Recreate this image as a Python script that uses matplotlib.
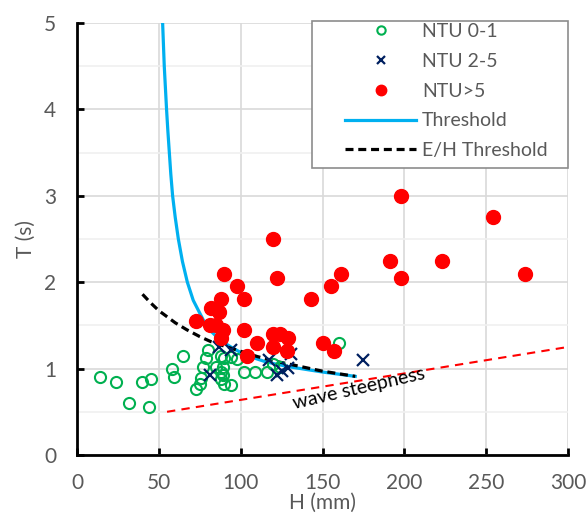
import numpy as np
import matplotlib
matplotlib.use("Agg")
import matplotlib.pyplot as plt
from matplotlib.ticker import MultipleLocator
from matplotlib.patches import Rectangle

plt.rcParams['font.family'] = ['Lato', 'DejaVu Sans']

# NTU 0-1 (open green circles)
H_low = [14, 24, 32, 40, 45, 44, 58, 59, 65,
         80, 79, 77, 76, 75, 73,
         85, 88, 90, 94, 98, 89, 88, 88, 90, 94, 89,
         102, 109, 116, 120, 124, 160]
T_low = [0.90, 0.85, 0.60, 0.85, 0.88, 0.55, 1.00, 0.90, 1.15,
         1.21, 1.12, 1.02, 0.89, 0.82, 0.76,
         1.02, 1.14, 1.12, 1.13, 1.11, 1.02, 0.96, 0.88, 0.82, 0.81, 0.92,
         0.96, 0.96, 0.96, 1.05, 1.02, 1.30]

# NTU 2-5 (crosses)
H_mid = [87, 94, 81, 117, 131, 122, 125, 129, 175]
T_mid = [1.25, 1.21, 0.92, 1.10, 1.17, 0.92, 0.97, 1.01, 1.10]

# NTU>5 (filled red circles)
H_high = [198, 254, 120, 191, 223, 90, 122, 161, 198, 274, 98, 155, 88, 102, 143,
          82, 87, 73, 81, 85, 89, 102, 88, 120, 124, 129, 110, 150, 120, 128, 157, 104]
T_high = [3.00, 2.75, 2.50, 2.25, 2.25, 2.10, 2.05, 2.10, 2.05, 2.10, 1.95, 1.95, 1.80, 1.80, 1.80,
          1.70, 1.65, 1.55, 1.50, 1.50, 1.45, 1.45, 1.35, 1.40, 1.40, 1.35, 1.30, 1.30, 1.25, 1.20, 1.20, 1.15]

# Threshold curve
H_thr = [52.3, 52.8, 53.3, 54.0, 54.7, 55.5, 56.4, 57.3, 58.4, 60.0, 61.9, 64.4, 67.4,
         71.0, 77.2, 82.0, 87.4, 94.0, 100.6, 107, 115, 122, 130, 140, 150, 160, 170]
T_thr = [5.0, 4.75, 4.5, 4.25, 4.0, 3.75, 3.5, 3.25, 3.0, 2.75, 2.5, 2.24, 2.0,
         1.79, 1.56, 1.43, 1.33, 1.25, 1.18, 1.13, 1.08, 1.05, 1.02, 0.99, 0.96, 0.935, 0.91]

# E/H threshold curve
H_eh = [40, 45, 50, 55, 60, 67, 75, 82, 90, 100, 110, 120, 130, 140, 150, 160, 170]
T_eh = [1.86, 1.76, 1.67, 1.60, 1.53, 1.45, 1.37, 1.31, 1.26, 1.20, 1.14, 1.09, 1.05, 1.01, 0.97, 0.94, 0.91]

# wave steepness line
H_ws = [55, 300]
T_ws = [0.50, 1.25]

fig = plt.figure(figsize=(5.88, 5.20), dpi=100)
ax = fig.add_axes([0.131, 0.125, 0.835, 0.831])

ax.plot(H_ws, T_ws, color='#ff0000', lw=1.5, ls=(0, (4, 3)), zorder=2)
ax.plot(H_thr, T_thr, color='#00b0f0', lw=2.3, zorder=2, label='Threshold')
ax.plot(H_eh, T_eh, color='black', lw=2.3, ls=(0, (2.5, 1.5)), zorder=2.5, label='E/H Threshold')

ax.plot(H_low, T_low, ls='none', marker='o', ms=8, mfc='none', mec='#00b050', mew=1.5,
        zorder=3, label='NTU 0-1')
ax.plot(H_mid, T_mid, ls='none', marker='x', ms=8, mec='#002060', mew=1.6,
        zorder=4, label='NTU 2-5')
ax.plot(H_high, T_high, ls='none', marker='o', ms=10, mfc='#ff0000', mec='#ff0000',
        zorder=5, label='NTU>5')

ax.text(172, 0.775, 'wave steepness', rotation=13, ha='center', va='center',
        fontsize=14, color='black')

ax.set_xlim(0, 300)
ax.set_ylim(0, 5)
ax.xaxis.set_major_locator(MultipleLocator(50))
ax.yaxis.set_major_locator(MultipleLocator(1))
ax.yaxis.set_minor_locator(MultipleLocator(0.5))
ax.grid(which='major', color='#d9d9d9', lw=1.2, zorder=0)
ax.grid(which='minor', axis='y', color='#f0f0f0', lw=1.2, zorder=0)
ax.set_axisbelow(True)

for s in ['top', 'right']:
    ax.spines[s].set_visible(False)
for s in ['left', 'bottom']:
    ax.spines[s].set_linewidth(2)
    ax.spines[s].set_color('black')
ax.tick_params(which='major', direction='in', length=5, width=2, labelsize=15,
               labelcolor='#595959', pad=15)
ax.tick_params(axis='x', pad=13)
ax.tick_params(which='minor', length=0)

ax.set_xlabel('H (mm)', fontsize=15, color='#595959', labelpad=0)
ax.set_ylabel('T (s)', fontsize=15, color='#595959', labelpad=6)

# legend frame drawn separately (wider side padding than top/bottom)
frame = Rectangle((0.4786, 0.6644), 0.5214, 0.3402, transform=ax.transAxes,
                  facecolor='white', edgecolor='#8c8c8c', lw=1.2, clip_on=False, zorder=6)
ax.add_patch(frame)

handles, labels = ax.get_legend_handles_labels()
order = [2, 3, 4, 0, 1]
leg = ax.legend([handles[i] for i in order], [labels[i] for i in order],
                loc='upper left', bbox_to_anchor=(0.5458, 1.0), fontsize=14,
                frameon=False, handlelength=3.66, handletextpad=0.3, labelspacing=0.66,
                borderpad=0, borderaxespad=0, markerscale=0.75)
leg.set_zorder(7)
for t in leg.get_texts():
    t.set_color('#595959')

fig.savefig('out.png', dpi=100)
